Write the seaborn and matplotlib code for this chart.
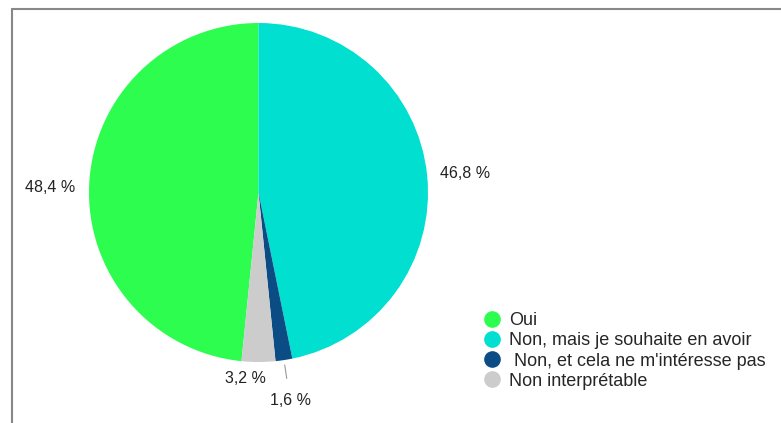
import matplotlib
matplotlib.use("Agg")
import matplotlib.pyplot as plt
from matplotlib.lines import Line2D
import numpy as np
import seaborn as sns

# Données
categories = ["Oui", "Non, mais je souhaite en avoir",
              " Non, et cela ne m'intéresse pas", "Non interprétable"]
valeurs = [48.4, 46.8, 1.6, 3.2]
couleurs = ["#2dfd4f", "#00dfd0", "#0b4c84", "#cccccc"]

sns.set_theme(style="white")
plt.rcParams['font.family'] = ['Liberation Sans', 'DejaVu Sans']
palette = sns.color_palette(couleurs)

fig = plt.figure(figsize=(7.81, 4.23), dpi=100)
W, H = 781, 423
ax = fig.add_axes([89 / W, 61 / H, 339 / W, 339 / H])

wedges, textes, pcts = ax.pie(
    valeurs, colors=palette, startangle=90 + valeurs[0] * 3.6,
    counterclock=False, autopct=lambda p: f"{p:.1f} %".replace(".", ","),
    pctdistance=1.23, wedgeprops=dict(linewidth=0),
    textprops=dict(fontsize=11.5, color="#222222"))
ax.set_xlim(-1, 1)
ax.set_ylim(-1, 1)
ax.set_aspect("equal")

# étiquettes ajustées
pcts[0].set_position((-1.23, 0.03))
pcts[1].set_position((1.22, 0.11))
pcts[2].set_position((0.19, -1.23))
pcts[3].set_position((-0.08, -1.10))
a = np.deg2rad(90 + valeurs[0] * 3.6 - (valeurs[0] + valeurs[1] + valeurs[2] / 2) * 3.6)
ax.plot([1.03 * np.cos(a), 1.11 * np.cos(a)], [1.03 * np.sin(a), 1.11 * np.sin(a)],
        color="#999999", lw=0.8, clip_on=False)

# cadre partiel
fig.add_artist(Line2D([12 / W, 1], [1 - 9 / H, 1 - 9 / H], color="#888888", lw=1.5))
fig.add_artist(Line2D([12 / W, 12 / W], [0, 1 - 9 / H], color="#888888", lw=1.5))

poignees = [Line2D([], [], marker="o", ls="", markersize=12, markerfacecolor=c,
                   markeredgewidth=0) for c in palette]
fig.legend(poignees, categories, loc="upper left",
           bbox_to_anchor=(481 / W, 1 - 312 / H), frameon=False,
           fontsize=13, labelspacing=0.18, handletextpad=0.35,
           handlelength=1.2, borderaxespad=0, borderpad=0)

fig.savefig("out.png", dpi=100)
